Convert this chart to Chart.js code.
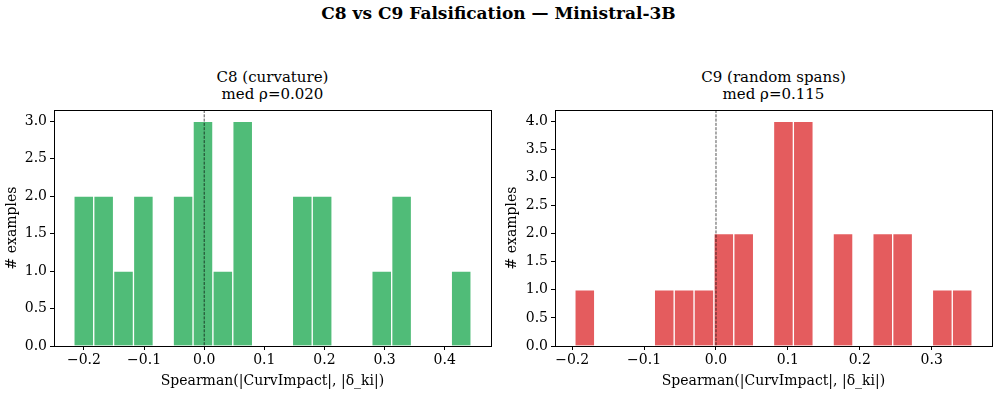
<!DOCTYPE html>
<html>
<head>
<meta charset="utf-8">
<script src="https://cdn.jsdelivr.net/npm/chart.js@4.4.0/dist/chart.umd.min.js"></script>
<style>
  body { margin: 0; width: 997px; height: 393px; background: #fff; position: relative; overflow: hidden; }
  #suptitle { position: absolute; top: 3px; left: 0; width: 997px; text-align: center;
    font-family: "DejaVu Serif", serif; font-weight: bold; font-size: 17px; color: #000; }
  .sub { position: absolute; top: 69px; text-align: center; font-family: "DejaVu Serif", serif;
    font-size: 15px; line-height: 17px; color: #000; }
  canvas { position: absolute; top: 0; }
</style>
</head>
<body>
<div id="suptitle">C8 vs C9 Falsification — Ministral-3B</div>
<div class="sub" style="left:54px;width:437px">C8 (curvature)<br>med ρ=0.020</div>
<div class="sub" style="left:555px;width:437px">C9 (random spans)<br>med ρ=0.115</div>
<canvas id="c8" width="500" height="393" style="left:0;width:500px;height:393px"></canvas>
<canvas id="c9" width="497" height="393" style="left:500px;width:497px;height:393px"></canvas>
<script>
// histogram bins (20 each)
const c8BinStart = -0.2168;
const c8BinWidth = 0.03304;
const c8Counts = [2, 2, 1, 2, 0, 2, 3, 1, 3, 0, 0, 2, 2, 0, 0, 1, 2, 0, 0, 1];
const c8XTicks = [-0.2, -0.1, 0.0, 0.1, 0.2, 0.3, 0.4];
const c8YTicks = [0, 0.5, 1.0, 1.5, 2.0, 2.5, 3.0];

const c9BinStart = -0.1963;
const c9BinWidth = 0.02763;
const c9Counts = [1, 0, 0, 0, 1, 1, 1, 2, 2, 0, 4, 4, 0, 2, 0, 2, 2, 0, 1, 1];
const c9XTicks = [-0.2, -0.1, 0.0, 0.1, 0.2, 0.3];
const c9YTicks = [0, 0.5, 1.0, 1.5, 2.0, 2.5, 3.0, 3.5, 4.0];

const font = "DejaVu Serif";
const fs = 14;

function binPoints(start, width, counts) {
    return counts.map((c, i) => ({ x: start + width * (i + 0.5), y: c }));
}

const framePlugin = {
    id: 'frame',
    afterDatasetsDraw(chart) {
        const a = chart.chartArea;
        const ctx = chart.ctx;
        const x0 = chart.scales.x.getPixelForValue(0);
        ctx.save();
        // zero reference line
        ctx.strokeStyle = 'rgba(0,0,0,0.85)';
        ctx.lineWidth = 0.8;
        ctx.setLineDash([3, 1.3]);
        ctx.beginPath();
        ctx.moveTo(x0, a.top);
        ctx.lineTo(x0, a.bottom);
        ctx.stroke();
        ctx.setLineDash([]);
        // axes box
        ctx.strokeStyle = '#000';
        ctx.lineWidth = 1;
        ctx.strokeRect(Math.round(a.left) + 0.5, Math.round(a.top) + 0.5,
            Math.round(a.right - a.left), Math.round(a.bottom - a.top));
        ctx.restore();
    }
};

function makeHist(id, start, width, counts, xTicks, yTicks, color, yAxisWidth, rightPad) {
    const n = counts.length;
    const lo = start, hi = start + width * n;
    const m = (hi - lo) * 0.05;
    const yMax = yTicks[yTicks.length - 1] * 1.05;
    new Chart(document.getElementById(id), {
        type: 'bar',
        data: {
            datasets: [{
                data: binPoints(start, width, counts),
                backgroundColor: color,
                borderColor: '#ffffff',
                borderWidth: 1,
                borderSkipped: 'bottom',
                barPercentage: 1.0,
                categoryPercentage: 1.0
            }]
        },
        options: {
            responsive: false,
            animation: false,
            layout: { padding: { top: 110, right: rightPad, left: 0, bottom: 0 } },
            plugins: { legend: { display: false }, tooltip: { enabled: false } },
            scales: {
                x: {
                    type: 'linear',
                    offset: false,
                    min: lo - m,
                    max: hi + m,
                    afterBuildTicks: s => { s.ticks = xTicks.map(v => ({ value: v })); },
                    afterFit: s => { s.height = 47; },
                    ticks: {
                        color: '#000',
                        font: { family: font, size: fs },
                        padding: 2,
                        maxRotation: 0,
                        autoSkip: false,
                        callback: v => v.toFixed(1).replace('-', '\u2212')
                    },
                    grid: { display: true, offset: false, drawOnChartArea: false, drawTicks: true, tickLength: 4, color: '#000' },
                    border: { display: true, color: '#000' },
                    title: {
                        display: true,
                        text: 'Spearman(|CurvImpact|, |δ_ki|)',
                        color: '#000',
                        font: { family: font, size: fs },
                        padding: { top: 0, bottom: 3 }
                    }
                },
                y: {
                    min: 0,
                    max: yMax,
                    afterBuildTicks: s => { s.ticks = yTicks.map(v => ({ value: v })); },
                    afterFit: s => { s.width = yAxisWidth; },
                    ticks: {
                        color: '#000',
                        font: { family: font, size: fs },
                        padding: 3,
                        autoSkip: false,
                        callback: v => v.toFixed(1)
                    },
                    grid: { display: true, offset: false, drawOnChartArea: false, drawTicks: true, tickLength: 4, color: '#000' },
                    border: { display: true, color: '#000' },
                    title: {
                        display: true,
                        text: '# examples',
                        color: '#000',
                        font: { family: font, size: fs },
                        padding: { top: 4, bottom: 0 }
                    }
                }
            }
        },
        plugins: [framePlugin]
    });
}

makeHist('c8', c8BinStart, c8BinWidth, c8Counts, c8XTicks, c8YTicks, '#50bc78', 54, 9);
makeHist('c9', c9BinStart, c9BinWidth, c9Counts, c9XTicks, c9YTicks, '#e45c5e', 55, 5);
</script>
</body>
</html>
